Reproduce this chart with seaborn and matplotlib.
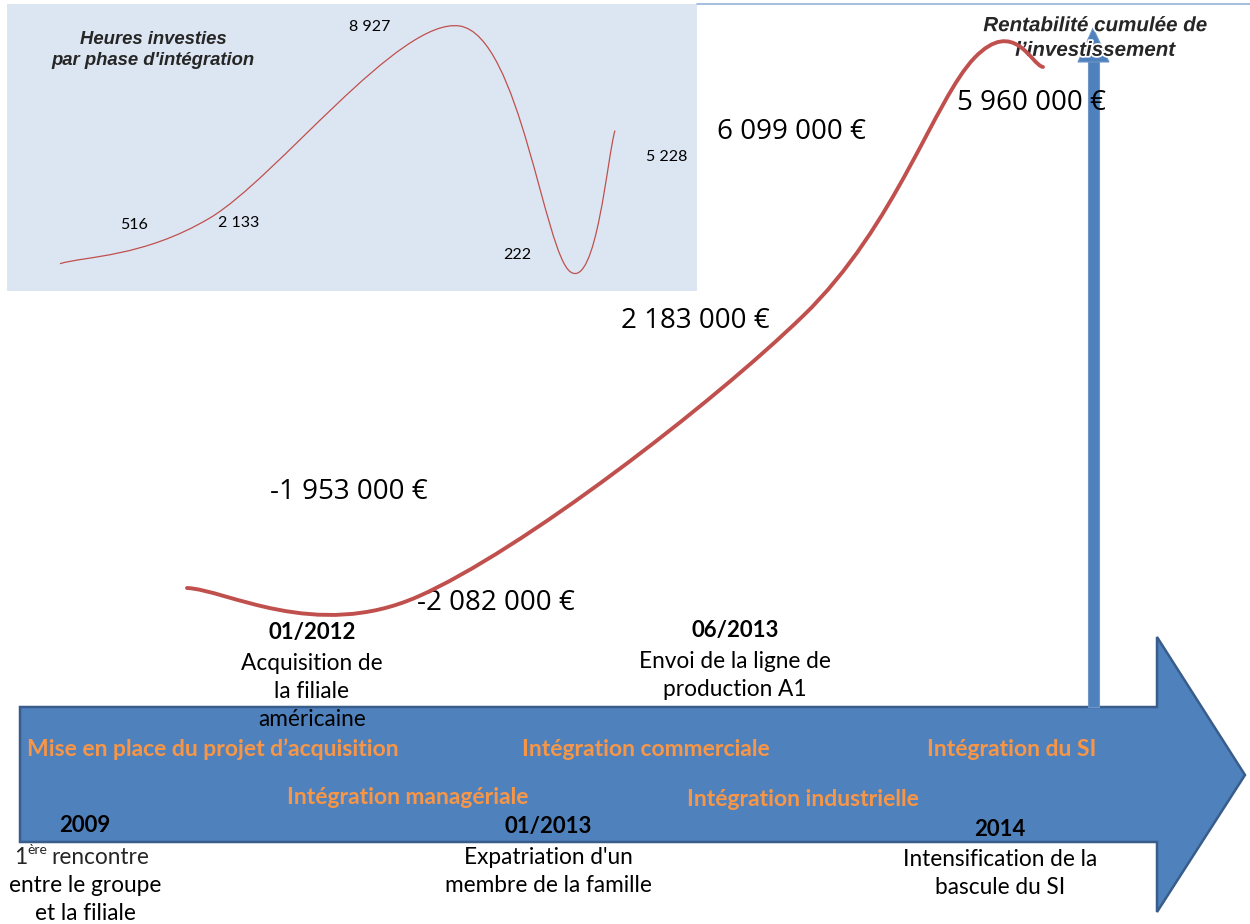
import numpy as np
import matplotlib
matplotlib.use("Agg")
import matplotlib.pyplot as plt
from matplotlib.path import Path
from matplotlib.patches import PathPatch, Polygon, Rectangle
import matplotlib.patheffects as pe
import seaborn as sns

# --- data -------------------------------------------------------------
phases = ["Mise en place du projet d’acquisition", "Intégration managériale",
          "Intégration commerciale", "Intégration industrielle",
          "Intégration du SI"]
phase_x = [0, 27, 72, 92, 100]          # position of each phase on the timeline (%)
heures = [516, 2133, 8927, 222, 5228]    # hours invested per phase
rentabilite = [-1953000, -2082000, 2183000, 6099000, 5960000]  # cumulative return (EUR)

dates = ["01/2012", "06/2013", "2009", "01/2013", "2014"]
events = [["Acquisition de", "la filiale", "américaine"],
          ["Envoi de la ligne de", "production A1"],
          ["", "entre le groupe", "et la filiale"],
          ["Expatriation d'un", "membre de la famille"],
          ["Intensification de la", "bascule du SI"]]

W, H = 1250, 924
BLUE = "#4f81bd"
BLUE_EDGE = "#385d8a"
RED = "#c0504d"
ORANGE = "#f79646"


def fmt_space(v):
    return f"{v:,}".replace(",", " ")


def smooth_path(x, y):
    """Excel-like smoothed line through the points (cubic bezier)."""
    pts = np.column_stack([x, y]).astype(float)
    n = len(pts)
    verts = [pts[0]]
    codes = [Path.MOVETO]
    for i in range(n - 1):
        p0 = pts[i - 1] if i > 0 else pts[i]
        p1 = pts[i]
        p2 = pts[i + 1]
        p3 = pts[i + 2] if i + 2 < n else pts[i + 1]
        verts += [p1 + (p2 - p0) / 6, p2 - (p3 - p1) / 6, p2]
        codes += [Path.CURVE4] * 3
    return Path(verts, codes)


def data_axes(fig, x0_px, x1_px, ymin_px, ymax_px):
    # axes box given in pixels from the top-left corner
    return fig.add_axes([x0_px / W, 1 - ymin_px / H,
                         (x1_px - x0_px) / W, (ymin_px - ymax_px) / H])


sns.set_theme(style="white")
plt.rcParams["font.family"] = ["Lato", "DejaVu Sans"]

fig = plt.figure(figsize=(W / 100, H / 100), dpi=100)
ax = fig.add_axes([0, 0, 1, 1])
ax.set_xlim(0, W)
ax.set_ylim(H, 0)
ax.axis("off")

# inset background + top border
ax.add_patch(Rectangle((7, 4), 690, 287, facecolor="#dce6f2", edgecolor="none", zorder=0))
ax.plot([697, W], [4, 4], color="#95b3d7", lw=1.2, zorder=0)

# big timeline arrow
body = [(20, 707), (1157, 707), (1157, 637), (1245, 775),
        (1157, 912), (1157, 842), (20, 842)]
ax.add_patch(Polygon(body, closed=True, facecolor=BLUE, edgecolor=BLUE_EDGE,
                     lw=1.8, zorder=1))

# vertical arrow
ax.add_patch(Rectangle((1088, 60), 11, 647, facecolor=BLUE, edgecolor="#6d95c8",
                       lw=0.8, zorder=1))
ax.add_patch(Polygon([(1078, 62), (1109, 62), (1093, 28)], closed=True,
                     facecolor=BLUE, edgecolor="#6d95c8", lw=0.8, zorder=1))

# phase labels inside the arrow
phase_pos = [(213, 749), (408, 797), (646, 749), (803, 799), (1012, 749)]
for lab, (px, py) in zip(phases, phase_pos):
    ax.text(px, py, lab, ha="center", va="center", fontsize=16.5,
            fontweight="bold", color=ORANGE, zorder=5)

# milestones
ms_pos = [(312, 632), (735, 630), (85, 826), (548, 826), (1000, 829)]
for d, lines, (px, py) in zip(dates, events, ms_pos):
    ax.text(px, py, d, ha="center", va="center", fontsize=16,
            fontweight="bold", color="black", zorder=5)
    for i, ln in enumerate(lines):
        ax.text(px, py + 31 + 28 * i, ln, ha="center", va="center",
                fontsize=16.3, color="black", zorder=5)
# "1ère rencontre" with superscript
ax.text(21, 857, "1", ha="center", va="center", fontsize=16.3, zorder=5)
ax.text(27, 850, "ère", ha="left", va="center", fontsize=10, zorder=5)
ax.text(51, 857, "rencontre", ha="left", va="center", fontsize=16.3, zorder=5)

# titles
ax.text(153, 50, "Heures investies\npar phase d'intégration", ha="center",
        va="center", fontsize=13.3, fontweight="bold", fontstyle="italic",
        family=["Liberation Sans"], linespacing=1.3, zorder=5)
ax.text(1095, 38, "Rentabilité cumulée de\nl’investissement", ha="center",
        va="center", fontsize=14.8, fontweight="bold", fontstyle="italic",
        family=["Liberation Sans"], linespacing=1.38, zorder=6,
        path_effects=[pe.withStroke(linewidth=2.5, foreground="white")])

# value labels
rent_lab_pos = [(349, 492), (496, 603), (695, 321), (791, 132), (1031, 103)]
for v, (px, py) in zip(rentabilite, rent_lab_pos):
    ax.text(px, py, fmt_space(v) + " €", ha="center", va="center",
            fontsize=20, family=["Open Sans"], color="black", zorder=6)

h_lab_pos = [(134, 225), (239, 223), (370, 27), (517, 255), (667, 157)]
for v, (px, py) in zip(heures, h_lab_pos):
    ax.text(px, py, fmt_space(v), ha="center", va="center",
            fontsize=11.5, color="black", zorder=5)

# inset curve: hours per phase
ax_h = data_axes(fig, 60, 615, 272, 26)
ax_h.set_xlim(min(phase_x), max(phase_x))
ax_h.set_ylim(min(heures), max(heures))
ax_h.add_patch(PathPatch(smooth_path(phase_x, heures), fill=False,
                         edgecolor=RED, lw=0.9, clip_on=False))
ax_h.axis("off")

# main curve: cumulative return
ax_r = data_axes(fig, 187, 1043, 596.5, 57.8)
ax_r.set_xlim(min(phase_x), max(phase_x))
ax_r.set_ylim(min(rentabilite), max(rentabilite))
ax_r.add_patch(PathPatch(smooth_path(phase_x, rentabilite), fill=False,
                         edgecolor=RED, lw=2.8, clip_on=False,
                         capstyle="round"))
ax_r.axis("off")

fig.savefig("out.png", dpi=100)
